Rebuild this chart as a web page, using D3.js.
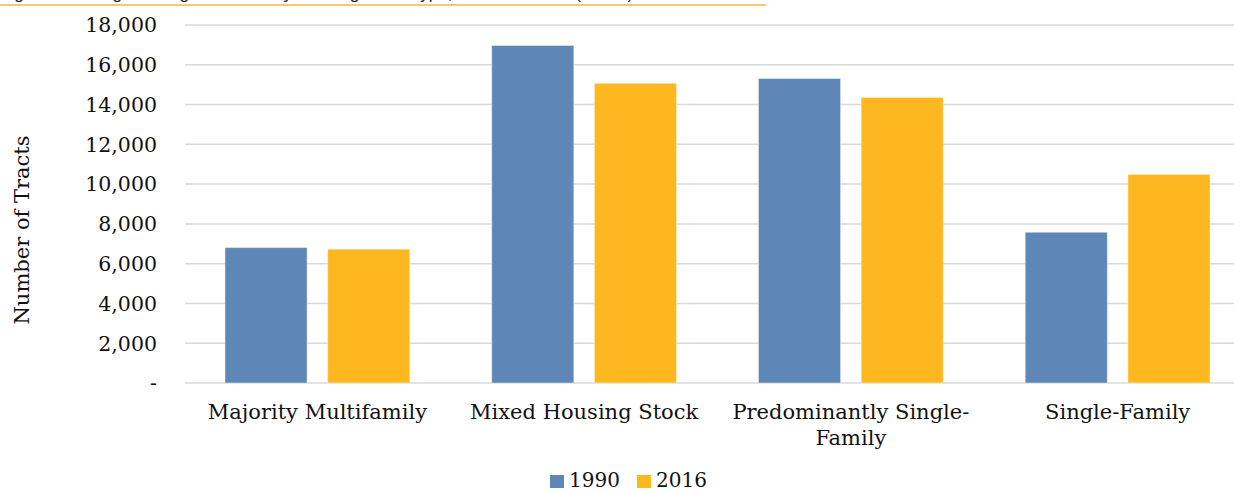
<!DOCTYPE html>
<html>
<head>
    <meta charset="utf-8">
    <title>Number of Tracts by Housing Stock Type</title>
    <script src="https://cdn.jsdelivr.net/npm/d3@7"></script>
    <style>
        body { margin: 0; background: #fff; }
        svg { display: block; font-family: "DejaVu Serif", Georgia, serif; }
    </style>
</head>
<body>
<script>

    // data
    let categories = ["Majority Multifamily", "Mixed Housing Stock", "Predominantly Single-Family", "Single-Family"];
    let seriesNames = ["1990", "2016"];
    let values1990 = [6810, 16970, 15310, 7580];
    let values2016 = [6730, 15070, 14360, 10490];
    let yTicks = [0, 2000, 4000, 6000, 8000, 10000, 12000, 14000, 16000, 18000];
    let colors = ["#5e87b8", "#fdb71f"];

    let data = categories.map((c, i) => ({ category: c, "1990": values1990[i], "2016": values2016[i] }));

    let width = 1234,
        height = 492,
        margin = { top: 25, left: 184, bottom: 109, right: -17 };

    let svg = d3.select("body").append("svg")
        .attr("width", width)
        .attr("height", height);

    // cut-off title from the report page, only its underline shows
    svg.append("text")
        .attr("x", 0)
        .attr("y", -1)
        .attr("font-family", "Liberation Sans, Arial, sans-serif")
        .attr("font-size", 17)
        .attr("fill", "#222")
        .text("Figure 3: Change in Neighborhoods by Housing Stock Type, 1990 and 2016 (Tracts)");
    svg.append("line")
        .attr("x1", 0).attr("x2", 766)
        .attr("y1", 5).attr("y2", 5)
        .attr("stroke", "#f7b83a")
        .attr("stroke-width", 1.6);

    let x0 = d3.scaleBand()
        .domain(categories)
        .range([margin.left, width - margin.right])
        .paddingInner(0.307)
        .paddingOuter(0.1535);

    let x1 = d3.scaleBand()
        .domain(seriesNames)
        .range([0, x0.bandwidth()])
        .paddingInner(0.2);

    let y = d3.scaleLinear()
        .domain([0, 18000])
        .range([height - margin.bottom, margin.top]);

    // gridlines
    svg.append("g")
        .selectAll("line")
        .data(yTicks)
        .join("line")
            .attr("x1", margin.left + 1)
            .attr("x2", width - margin.right)
            .attr("y1", d => y(d))
            .attr("y2", d => y(d))
            .attr("stroke", "#d9d9d9")
            .attr("stroke-width", 1.5);

    // y tick labels
    svg.append("g")
        .selectAll("text")
        .data(yTicks)
        .join("text")
            .attr("x", 157)
            .attr("y", d => y(d))
            .attr("dy", "0.36em")
            .attr("text-anchor", "end")
            .attr("font-size", 20.5)
            .attr("fill", "#111")
            .text(d => d === 0 ? "-" : d3.format(",")(d));

    svg.append("text")
        .attr("transform", `translate(29, 230) rotate(-90)`)
        .attr("text-anchor", "middle")
        .attr("font-size", 21)
        .attr("fill", "#111")
        .text("Number of Tracts");

    // bars
    svg.append("g")
        .selectAll("g")
        .data(data)
        .join("g")
            .attr("transform", d => `translate(${x0(d.category)},0)`)
        .selectAll("rect")
        .data(d => seriesNames.map((s, i) => ({ key: s, value: d[s], color: colors[i] })))
        .join("rect")
            .attr("x", d => x1(d.key))
            .attr("y", d => y(d.value))
            .attr("width", x1.bandwidth())
            .attr("height", d => y(0) - y(d.value))
            .attr("fill", d => d.color)
            .attr("stroke", "rgba(255,255,255,0.45)")
            .attr("stroke-width", 1);

    // category labels, wrapped when wider than the band step
    let labels = svg.append("g")
        .selectAll("text")
        .data(categories)
        .join("text")
            .attr("x", d => x0(d) + x0.bandwidth() / 2)
            .attr("y", 419)
            .attr("text-anchor", "middle")
            .attr("font-size", 21)
            .attr("fill", "#111");

    labels.each(function(d) {
        let t = d3.select(this);
        let words = d.split(/(?<=-)|\s+/);
        let lines = [[]];
        let probe = t.append("tspan");
        words.forEach(w => {
            let cur = lines[lines.length - 1];
            let test = cur.concat([w]);
            probe.text(joinWords(test));
            if (probe.node().getComputedTextLength() > x0.step() * 0.92 && cur.length) {
                lines.push([w]);
            } else {
                lines[lines.length - 1] = test;
            }
        });
        probe.remove();
        lines.forEach((l, i) => {
            t.append("tspan")
                .attr("x", x0(d) + x0.bandwidth() / 2)
                .attr("dy", i === 0 ? 0 : 26)
                .text(joinWords(l));
        });
    });

    function joinWords(ws) {
        let s = "";
        ws.forEach((w, i) => {
            if (i > 0 && !ws[i - 1].endsWith("-")) s += " ";
            s += w;
        });
        return s;
    }

    // legend
    let legend = svg.append("g")
        .attr("transform", "translate(550, 475)");

    let item = legend.selectAll("g")
        .data(seriesNames)
        .join("g")
            .attr("transform", (d, i) => `translate(${i * 87}, 0)`);

    item.append("rect")
        .attr("width", 14)
        .attr("height", 13)
        .attr("fill", (d, i) => colors[i]);

    item.append("text")
        .attr("x", 19)
        .attr("y", 12)
        .attr("font-size", 20)
        .attr("fill", "#111")
        .text(d => d);

</script>
</body>
</html>
